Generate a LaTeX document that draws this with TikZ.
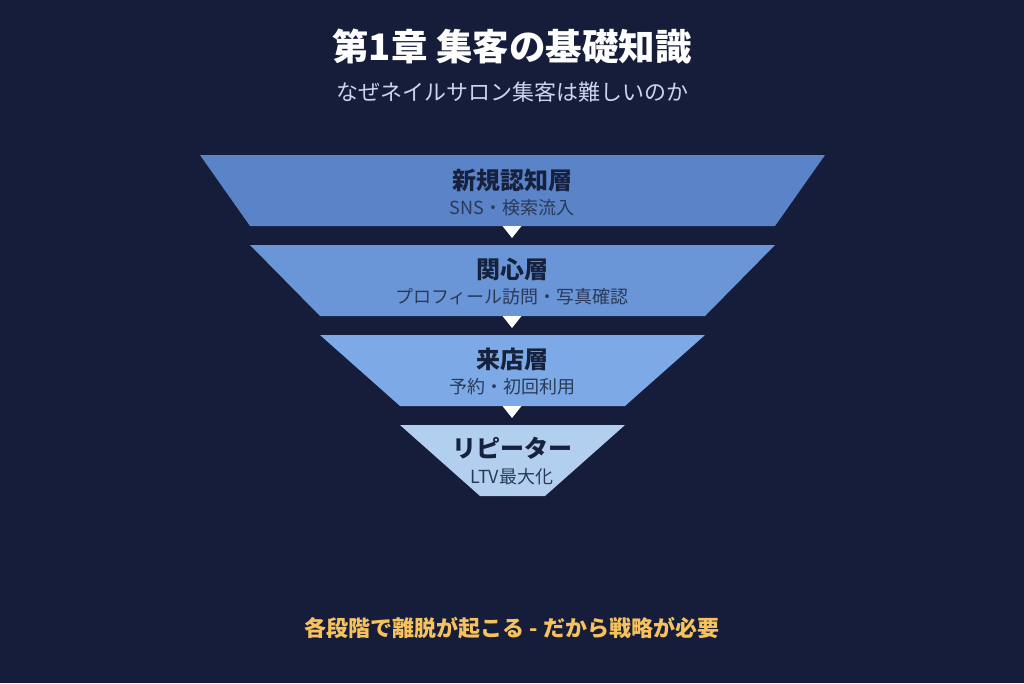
\documentclass[tikz,border=0pt]{standalone}
\usepackage{fontspec}
\setmainfont{Noto Sans CJK JP}
\definecolor{bg}{HTML}{151D3B}
\definecolor{lay1}{HTML}{5B83C7}
\definecolor{lay2}{HTML}{6A96D8}
\definecolor{lay3}{HTML}{7DAAE6}
\definecolor{lay4}{HTML}{B2CFF0}
\definecolor{darktxt}{HTML}{16213D}
\definecolor{subtxt}{HTML}{2A3A58}
\definecolor{lighttxt}{HTML}{C9D5EC}
\definecolor{gold}{HTML}{F6C25E}
\tikzset{
  layertitle/.style={text=darktxt,font=\bfseries\fontsize{24}{26}\selectfont,inner sep=0pt,anchor=center},
  layersub/.style={text=subtxt,font=\fontsize{18}{20}\selectfont,inner sep=0pt,anchor=center},
  flowtri/.style={fill=white,draw=none}
}
\begin{document}
\begin{tikzpicture}[x=1pt,y=-1pt]
\fill[bg] (0,0) rectangle (1024,683);
\useasboundingbox (0,0) rectangle (1024,683);
% layers
\fill[lay1] (200,155) -- (825,155) -- (775,226) -- (250,226) -- cycle;
\fill[lay2] (250,245) -- (775,245) -- (705,316) -- (320,316) -- cycle;
\fill[lay3] (320,335) -- (705,335) -- (625,406) -- (400,406) -- cycle;
\fill[lay4] (400,425) -- (625,425) -- (545,496) -- (480,496) -- cycle;
% arrows
\fill[flowtri] (502.5,226) -- (521.5,226) -- (512,238) -- cycle;
\fill[flowtri] (502.5,316) -- (521.5,316) -- (512,328) -- cycle;
\fill[flowtri] (502.5,406) -- (521.5,406) -- (512,418) -- cycle;
% titles
\node[text=white,font=\bfseries\fontsize{36.5}{40}\selectfont,inner sep=0pt] (title) at (512,47) {第1章 集客の基礎知識};
\node[text=lighttxt,font=\fontsize{22}{24}\selectfont,inner sep=0pt] (subtitle) at (512,92) {なぜネイルサロン集客は難しいのか};
% layer texts
\node[layertitle] (t1) at (512,180) {新規認知層};
\node[layersub] (s1) at (512,208) {SNS・検索流入};
\node[layertitle] (t2) at (512,269) {関心層};
\node[layersub] (s2) at (512,297) {プロフィール訪問・写真確認};
\node[layertitle] (t3) at (512,359) {来店層};
\node[layersub] (s3) at (512,387) {予約・初回利用};
\node[layertitle] (t4) at (512,448) {リピーター};
\node[layersub] (s4) at (512,477) {LTV最大化};
% bottom
\node[text=gold,font=\bfseries\fontsize{22}{24}\selectfont,inner sep=0pt] (foot) at (512,628) {各段階で離脱が起こる - だから戦略が必要};
\end{tikzpicture}
\end{document}
